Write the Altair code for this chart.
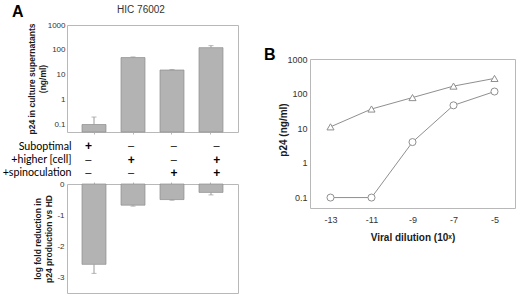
import altair as alt
import pandas as pd

# ---------------- data ----------------
conditions = ["Suboptimal", "Higher [cell]", "Spinoculation", "Higher [cell] + spinoculation"]
p24_mean = [0.1, 49, 15.5, 123]
p24_err_high = [0.2, 52, 16.2, 148]
fold_mean = [-2.58, -0.68, -0.50, -0.27]
fold_err_low = [-2.87, -0.71, -0.52, -0.35]

table_rows = ["Suboptimal", "+higher [cell]", "+spinoculation"]
signs_suboptimal = ["+", "–", "–", "–"]
signs_higher_cell = ["–", "+", "–", "+"]
signs_spinoculation = ["–", "–", "+", "+"]

dilution = [-13, -11, -9, -7, -5]
p24_triangle = [11, 36, 77, 165, 275]
p24_circle = [0.1, 0.1, 4.0, 46, 115]
series_names = ["triangle", "circle"]

log_ticks = [0.1, 1, 10, 100, 1000]
fold_ticks = [-3, -2, -1, 0]

# ---------------- styles ----------------
FONT = "Liberation Sans"
FRAME = "#b8b8b8"
BAR_FILL = "#b3b3b3"
BAR_STROKE = "#8c8c8c"
ERR = "#9a9a9a"
LINE = "#8f8f8f"
LABEL = "#333333"
TITLE = "#1a1a1a"

band = alt.Scale(domain=conditions, paddingInner=0.385, paddingOuter=0.385)
log_a = alt.Scale(type="log", domain=[0.05, 1000], nice=False)

# ---------------- panel A top ----------------
top_df = pd.DataFrame({"cond": conditions, "p24": p24_mean, "hi": p24_err_high})
x_top = alt.X("cond:N", scale=band, sort=conditions,
              axis=alt.Axis(title=None, labels=False, domain=False, ticks=True,
                            tickSize=2, tickColor=FRAME, orient="bottom"))
y_top = alt.Y("p24:Q", scale=log_a,
              axis=alt.Axis(values=log_ticks, tickCount=10, format="~g", labelOverlap=False,
                            title=["p24 in culture supernatants", "(ng/ml)"],
                            titleX=-39.5, titleY=53.5, titleAngle=270, titleAlign="center",
                            titleBaseline="top", titleFontSize=8.5, titleFontWeight="bold",
                            titleLineHeight=10.5, titleColor=TITLE,
                            labelFontSize=8, labelColor=LABEL, labelPadding=2,
                            ticks=False, domain=False, grid=False))
top_base = alt.Chart(top_df)
top_bars = top_base.mark_bar(fill=BAR_FILL, stroke=BAR_STROKE, strokeWidth=0.7).encode(
    x=x_top, y=y_top, y2=alt.datum(0.05))
top_err = top_base.mark_rule(color=ERR, strokeWidth=1).encode(
    x=alt.X("cond:N", sort=conditions), y="p24:Q", y2="hi:Q")
top_cap = top_base.mark_tick(color=ERR, size=5, thickness=1).encode(
    x=alt.X("cond:N", sort=conditions), y="hi:Q")
a_label = alt.Chart(pd.DataFrame({"t": ["A"]})).mark_text(
    align="left", baseline="alphabetic", fontSize=16, fontWeight="bold", color="black"
).encode(x=alt.value(-55), y=alt.value(-8), text="t:N")
hic_label = alt.Chart(pd.DataFrame({"t": ["HIC 76002"]})).mark_text(
    align="center", baseline="alphabetic", fontSize=10, color=LABEL
).encode(x=alt.value(74), y=alt.value(-12.5), text="t:N")

top_chart = alt.layer(top_bars, top_err, top_cap, a_label, hic_label).properties(
    width=171, height=107)

# ---------------- panel A table ----------------
table_df = pd.DataFrame({
    "cond": conditions * 3,
    "row": [table_rows[0]] * 4 + [table_rows[1]] * 4 + [table_rows[2]] * 4,
    "sign": signs_suboptimal + signs_higher_cell + signs_spinoculation,
})
x_tab = alt.X("cond:N", scale=band, sort=conditions, axis=None)
y_tab = alt.Y("row:N", sort=table_rows,
              scale=alt.Scale(domain=table_rows, type="point", padding=0.93),
              axis=alt.Axis(title=None, domain=False, ticks=False, labelPadding=-4,
                            labelFont="Lato", labelFontSize=10.7, labelColor="black",
                            labelOffset=1.5))
tab_base = alt.Chart(table_df)
tab_plus = tab_base.transform_filter(alt.datum.sign == "+").mark_text(
    fontSize=12, fontWeight="bold", color="black", dy=1.5
).encode(x=x_tab, y=y_tab, text="sign:N")
tab_minus = tab_base.transform_filter(alt.datum.sign != "+").mark_text(
    fontSize=11, fontWeight="normal", color="black", dy=1.5
).encode(x=x_tab, y=y_tab, text="sign:N")
table = alt.layer(tab_plus, tab_minus, view=alt.ViewBackground(strokeOpacity=0)).properties(
    width=171, height=52)

# ---------------- panel A bottom ----------------
bot_df = pd.DataFrame({"cond": conditions, "fold": fold_mean, "lo": fold_err_low})
lin_a = alt.Scale(domain=[-3.5, 0], nice=False, zero=False)
x_bot = alt.X("cond:N", scale=band, sort=conditions,
              axis=alt.Axis(title=None, labels=False, domain=False, ticks=True,
                            tickSize=2, tickColor=FRAME, orient="top"))
y_bot = alt.Y("fold:Q", scale=lin_a,
              axis=alt.Axis(values=fold_ticks, tickCount=10, format="d", labelOverlap=False,
                            labelExpr="replace(datum.label, '\u2212', '-')",
                            title=["log fold reduction in", "p24 production vs HD"],
                            titleX=-33.5, titleY=54.5, titleAngle=270, titleAlign="center",
                            titleBaseline="top", titleFontSize=8.5, titleFontWeight="bold",
                            titleLineHeight=10.5, titleColor=TITLE,
                            labelFontSize=8, labelColor=LABEL, labelPadding=3,
                            ticks=False, domain=False, grid=False))
bot_base = alt.Chart(bot_df)
bot_bars = bot_base.mark_bar(fill=BAR_FILL, stroke=BAR_STROKE, strokeWidth=0.7).encode(
    x=x_bot, y=y_bot, y2=alt.datum(0))
bot_err = bot_base.mark_rule(color=ERR, strokeWidth=1).encode(
    x=alt.X("cond:N", sort=conditions), y="fold:Q", y2="lo:Q")
bot_cap = bot_base.mark_tick(color=ERR, size=5, thickness=1).encode(
    x=alt.X("cond:N", sort=conditions), y="lo:Q")
bot_chart = alt.layer(bot_bars, bot_err, bot_cap).properties(width=171, height=109)

# ---------------- panel B ----------------
line_df = pd.DataFrame({
    "dilution": dilution * 2,
    "p24": p24_triangle + p24_circle,
    "series": [series_names[0]] * 5 + [series_names[1]] * 5,
})
x_b = alt.X("dilution:Q", scale=alt.Scale(domain=[-14, -4], nice=False, zero=False),
            axis=alt.Axis(values=dilution, tickCount=10, format="d", labelOverlap=False,
                          labelExpr="replace(datum.label, '\u2212', '-')",
                          title="Viral dilution (10ˣ)", titleFontSize=10,
                          titleFont="Liberation Sans, DejaVu Sans",
                          titleFontWeight="bold", titleColor=TITLE, titlePadding=8,
                          labelFontSize=9, labelColor=LABEL, labelPadding=7,
                          ticks=False, domain=False, grid=False))
y_b = alt.Y("p24:Q", scale=alt.Scale(type="log", domain=[0.05, 1000], nice=False),
            axis=alt.Axis(values=log_ticks, tickCount=10, format="~g", labelOverlap=False,
                          title="p24 (ng/ml)",
                          titleX=-32, titleY=70.5, titleAngle=270, titleAlign="center",
                          titleBaseline="top", titleFontSize=10, titleFontWeight="bold",
                          titleColor=TITLE, labelFontSize=9, labelColor=LABEL,
                          labelPadding=3, ticks=False, domain=False, grid=False))
b_base = alt.Chart(line_df)
b_lines = b_base.mark_line(color=LINE, strokeWidth=1).encode(x=x_b, y=y_b, detail="series:N")
b_points = b_base.mark_point(filled=True, fill="white", stroke=LINE, strokeWidth=1,
                             size=50, opacity=1).encode(
    x="dilution:Q", y="p24:Q",
    shape=alt.Shape("series:N", scale=alt.Scale(domain=series_names,
                                                range=["triangle-up", "circle"]),
                    legend=None))
line_chart = alt.layer(b_lines, b_points).properties(width=205, height=149)

spacer = alt.Chart(pd.DataFrame({"t": ["B"]}), view=alt.ViewBackground(strokeOpacity=0)).mark_text(
    align="left", baseline="alphabetic", fontSize=16, fontWeight="bold", color="black"
).encode(x=alt.value(-46), y=alt.value(35), text="t:N").properties(width=205, height=34)

# ---------------- layout ----------------
left_col = alt.vconcat(top_chart, table, bot_chart, spacing=0, bounds="flush")
right_col = alt.vconcat(spacer, line_chart, spacing=0, bounds="flush")
# nested column groups count as zero-width under flush bounds, so the spacing
# carries the left column's plot width (171) plus the 72 px gap
chart = alt.hconcat(left_col, right_col, spacing=243, bounds="flush").properties(
    autosize=alt.AutoSizeParams(type="none"),
    padding={"left": 67, "top": 25, "right": 453, "bottom": 271},
).configure(font=FONT).configure_view(stroke=FRAME, strokeWidth=1)

chart.save("out.html", embed_options={"renderer": "svg", "actions": False})
